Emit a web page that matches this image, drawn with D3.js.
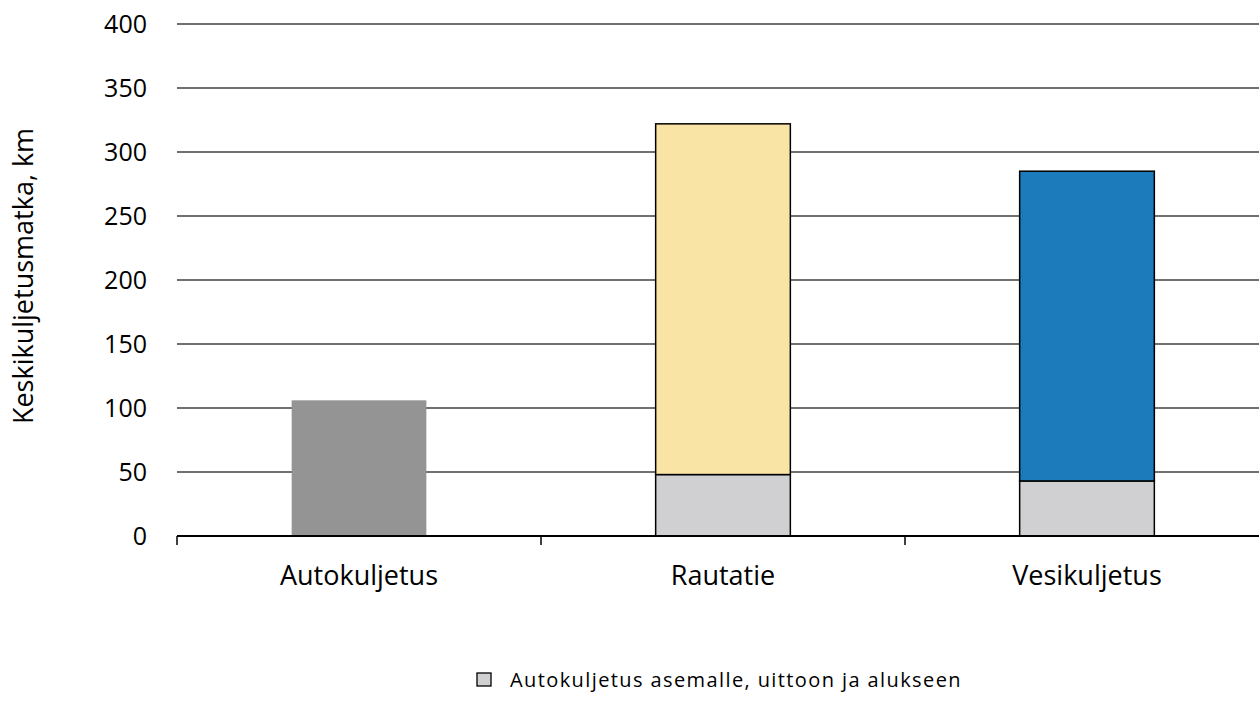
<!DOCTYPE html>
<html>
<head>
<meta charset="utf-8">
<script src="https://cdn.jsdelivr.net/npm/d3@7"></script>
<style>
  body { margin: 0; background: #fff; }
  svg text { font-family: "Open Sans", sans-serif; fill: #000; }
</style>
</head>
<body>
<svg id="chart" width="1259" height="701"></svg>
<script>
/** Categories and stacked values */
var categories = ['Autokuljetus', 'Rautatie', 'Vesikuljetus'];
var feederValues = [0, 48, 43];      // Autokuljetus asemalle, uittoon ja alukseen
var mainValues = [106, 274, 242];    // main haul on top of feeder
var yTicks = [0, 50, 100, 150, 200, 250, 300, 350, 400];
var legendLabel = 'Autokuljetus asemalle, uittoon ja alukseen';
var yTitle = 'Keskikuljetusmatka, km';

/** Colours */
var mainColors = ['#949494', '#f9e4a5', '#1c7bbb'],
    feederColor = '#d0d0d2';

var margin = {left: 177, right: -10, top: 24, bottom: 165},
    width = 1259,
    height = 701;

var svg = d3.select('#chart');

var x = d3.scaleBand()
    .domain(categories)
    .range([margin.left, width - margin.right])
    .paddingInner(0.63)
    .paddingOuter(0.315);

var y = d3.scaleLinear()
    .domain([0, 400])
    .range([height - margin.bottom, margin.top]);

// gridlines
svg.append('g')
    .selectAll('line')
    .data(yTicks.filter(function(d) { return d > 0; }))
    .enter()
    .append('line')
    .attr('x1', margin.left)
    .attr('x2', width)
    .attr('y1', function(d) { return y(d); })
    .attr('y2', function(d) { return y(d); })
    .attr('stroke', '#404040')
    .attr('stroke-width', 1.4);

// y tick labels
svg.append('g')
    .selectAll('text')
    .data(yTicks)
    .enter()
    .append('text')
    .attr('x', 147)
    .attr('y', function(d) { return y(d); })
    .attr('dy', '0.36em')
    .attr('text-anchor', 'end')
    .style('font-size', '25px')
    .text(function(d) { return d; });

// y title
svg.append('text')
    .attr('transform', 'translate(33,276) rotate(-90)')
    .attr('text-anchor', 'middle')
    .style('font-size', '27px')
    .text(yTitle);

// stacked data
var stacked = categories.map(function(c, i) {
    return {cat: c, feeder: feederValues[i], main: mainValues[i], color: mainColors[i]};
});

// feeder part (bottom)
svg.append('g')
    .selectAll('rect')
    .data(stacked.filter(function(d) { return d.feeder > 0; }))
    .enter()
    .append('rect')
    .attr('x', function(d) { return x(d.cat); })
    .attr('width', x.bandwidth())
    .attr('y', function(d) { return y(d.feeder); })
    .attr('height', function(d) { return y(0) - y(d.feeder); })
    .attr('fill', feederColor)
    .attr('stroke', '#000')
    .attr('stroke-width', 1.5);

// main part (top)
svg.append('g')
    .selectAll('rect')
    .data(stacked)
    .enter()
    .append('rect')
    .attr('x', function(d) { return x(d.cat); })
    .attr('width', x.bandwidth())
    .attr('y', function(d) { return y(d.feeder + d.main); })
    .attr('height', function(d) { return y(d.feeder) - y(d.feeder + d.main); })
    .attr('fill', function(d) { return d.color; })
    .attr('stroke', function(d) { return d.feeder > 0 ? '#000' : 'none'; })
    .attr('stroke-width', 1.5);

// x axis line and ticks
var xAxis = svg.append('g');
xAxis.append('line')
    .attr('x1', margin.left)
    .attr('x2', width)
    .attr('y1', y(0))
    .attr('y2', y(0))
    .attr('stroke', '#000')
    .attr('stroke-width', 1.8);

var step = x.step();
var tickXs = categories.map(function(c) { return x(c) - (step - x.bandwidth()) / 2; });
xAxis.selectAll('.tick')
    .data(tickXs)
    .enter()
    .append('line')
    .attr('x1', function(d) { return d; })
    .attr('x2', function(d) { return d; })
    .attr('y1', y(0))
    .attr('y2', y(0) + 9)
    .attr('stroke', '#000')
    .attr('stroke-width', 1.5);

xAxis.selectAll('text')
    .data(categories)
    .enter()
    .append('text')
    .attr('x', function(d) { return x(d) + x.bandwidth() / 2; })
    .attr('y', y(0) + 49)
    .attr('text-anchor', 'middle')
    .style('font-size', '27px')
    .text(function(d) { return d; });

// legend
var legend = svg.append('g').attr('transform', 'translate(477,673)');
legend.append('rect')
    .attr('width', 14)
    .attr('height', 13)
    .attr('fill', feederColor)
    .attr('stroke', '#000')
    .attr('stroke-width', 1.3);
legend.append('text')
    .attr('x', 33)
    .attr('y', 14)
    .style('font-size', '20px')
    .style('letter-spacing', '1.4px')
    .text(legendLabel);
</script>
</body>
</html>
